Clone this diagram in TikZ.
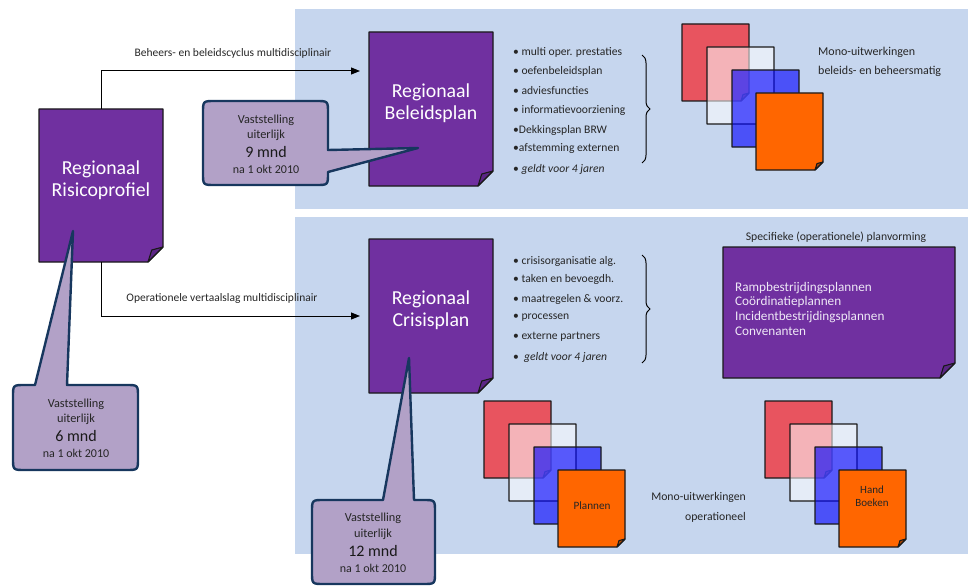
\documentclass[tikz,border=0pt]{standalone}
\usepackage{fontspec}
\setmainfont{Carlito}
\usetikzlibrary{decorations.pathreplacing,arrows.meta}
\definecolor{panel}{HTML}{C6D6EE}
\definecolor{plum}{HTML}{7030A0}
\definecolor{plumdark}{HTML}{5B2585}
\definecolor{callfill}{HTML}{B2A1C7}
\definecolor{callline}{HTML}{17375E}
\definecolor{sheetred}{HTML}{E8545F}
\definecolor{sheetorange}{HTML}{FF6600}
\definecolor{txt}{HTML}{262626}
\definecolor{lavtext}{HTML}{EEE8F6}
\tikzset{
  sheetline/.style={draw=black!90, line width=1.1pt, line join=round},
  area/.style={draw=none, inner sep=0pt, rectangle},
  bigtitle/.style={text=white, font=\fontsize{19.8}{22.5}\selectfont, align=center},
  bullet/.style={anchor=west, text=txt, font=\fontsize{11.6}{13}\selectfont, inner sep=0pt},
  smalltxt/.style={text=txt, font=\fontsize{11.5}{13}\selectfont, inner sep=0pt},
  calloutshape/.style={fill=callfill, draw=callline, line width=2.4pt, line join=round},
  ctxt/.style={text=txt, inner sep=0pt, font=\fontsize{12.3}{14}\selectfont},
  cbig/.style={text=black!90, inner sep=0pt, font=\fontsize{16}{18}\selectfont},
  csmall/.style={text=txt, inner sep=0pt, font=\fontsize{12}{14}\selectfont},
  arrowline/.style={draw=black, line width=1pt, -{Triangle[length=9pt,width=7pt]}},
  bracestyle/.style={draw=black, line width=1pt, decorate, decoration={brace, amplitude=8pt}},
}
% #1 x1, #2 y1, #3 x2, #4 y2, #5 fill, #6 fold size, #7 fold fill
\newcommand{\docsheet}[7]{%
  \path[sheetline,#5] (#1,#2) -- (#3,#2) -- (#3,{#4-#6}) -- ({#3-#6},#4) -- (#1,#4) -- cycle;
  \path[sheetline,fill=#7] ({#3-#6},#4) -- ({#3-0.75*#6},{#4-0.8*#6}) -- (#3,{#4-#6}) -- cycle;
}
\newcommand{\sheetstack}[2]{%
  \docsheet{#1}{#2}{#1+67}{#2+77}{fill=sheetred}{8}{sheetred!75!black}
  \docsheet{#1+25}{#2+23}{#1+92}{#2+100}{fill=white,fill opacity=0.56}{8}{white!80!black}
  \docsheet{#1+50}{#2+46}{#1+117}{#2+123}{fill=blue,fill opacity=0.62}{8}{blue!70!black}
  \docsheet{#1+74}{#2+69}{#1+141}{#2+146}{fill=sheetorange}{8}{sheetorange!70!black}
}
\begin{document}
\begin{tikzpicture}[x=1pt,y=-1pt]
\useasboundingbox (0,0) rectangle (970,586);
% panels
\fill[panel] (295,9) rectangle (968,209);
\fill[panel] (295,217) rectangle (968,554);

% main documents
\docsheet{39}{109}{163}{262}{fill=plum}{15}{plumdark}
\node[area, minimum width=124pt, minimum height=153pt] (risk) at (101,185.5) {};
\node[bigtitle] (riskT) at (101,180) {Regionaal\\Risicoprofiel};

\docsheet{369}{32}{493}{186}{fill=plum}{15}{plumdark}
\node[area, minimum width=124pt, minimum height=154pt] (bel) at (431,109) {};
\node[bigtitle] (belT) at (431,103) {Regionaal\\Beleidsplan};

\docsheet{369}{239}{493}{393}{fill=plum}{15}{plumdark}
\node[area, minimum width=124pt, minimum height=154pt] (cris) at (431,316) {};
\node[bigtitle] (crisT) at (431,310) {Regionaal\\Crisisplan};

% connectors
\coordinate (belin) at (360,71);
\coordinate (crisin) at (360,316);
\draw[arrowline] (risk.north) |- (belin);
\draw[arrowline] (risk.south) |- (crisin);
\node[smalltxt] (lab1) at (233,53) {Beheers- en beleidscyclus multidisciplinair};
\node[smalltxt] (lab2) at (222,298) {Operationele vertaalslag multidisciplinair};

% callouts
\path[calloutshape] (215,101) -- (316,101) .. controls (328,101) .. (328,113) -- (328,150)
  -- (418,148) -- (328,172) -- (328,173) .. controls (328,185) .. (316,185) -- (215,185)
  .. controls (203,185) .. (203,173) -- (203,113) .. controls (203,101) .. (215,101) -- cycle;
\node[ctxt] (c9a) at (266,120) {Vaststelling};
\node[ctxt] (c9b) at (266,135) {uiterlijk};
\node[cbig] (c9c) at (266,152) {9 mnd};
\node[csmall] (c9d) at (266,169) {na 1 okt 2010};

\path[calloutshape] (13,397) .. controls (13,385) .. (25,385) -- (35,385) -- (73,231) -- (67,385)
  -- (126,385) .. controls (138,385) .. (138,397) -- (138,458) .. controls (138,470) .. (126,470)
  -- (25,470) .. controls (13,470) .. (13,458) -- cycle;
\node[ctxt] (c6a) at (76,404) {Vaststelling};
\node[ctxt] (c6b) at (76,419) {uiterlijk};
\node[cbig] (c6c) at (76,436) {6 mnd};
\node[csmall] (c6d) at (76,453) {na 1 okt 2010};

\path[calloutshape] (312,512) .. controls (312,500) .. (324,500) -- (383,500) -- (409,358) -- (414,500)
  -- (423,500) .. controls (435,500) .. (435,512) -- (435,572) .. controls (435,584) .. (423,584)
  -- (324,584) .. controls (312,584) .. (312,572) -- cycle;
\node[ctxt] (c12a) at (373,518) {Vaststelling};
\node[ctxt] (c12b) at (373,534) {uiterlijk};
\node[cbig] (c12c) at (373,551) {12 mnd};
\node[csmall] (c12d) at (373,568) {na 1 okt 2010};

% top list
\node[bullet] (t1) at (513,52) {\textbullet\ multi oper. prestaties};
\node[bullet] (t2) at (513,71) {\textbullet\ oefenbeleidsplan};
\node[bullet] (t3) at (513,91) {\textbullet\ adviesfuncties};
\node[bullet] (t4) at (513,110) {\textbullet\ informatievoorziening};
\node[bullet] (t5) at (513,130) {\textbullet Dekkingsplan BRW};
\node[bullet] (t6) at (513,149) {\textbullet afstemming externen};
\node[bullet] (t7) at (513,169) {\textbullet\ \textit{geldt voor 4 jaren}};
\draw[bracestyle] (642,55) -- (642,163);

% bottom list
\node[bullet] (b1) at (513,261) {\textbullet\ crisisorganisatie alg.};
\node[bullet] (b2) at (513,279) {\textbullet\ taken en bevoegdh.};
\node[bullet] (b3) at (513,299) {\textbullet\ maatregelen \& voorz.};
\node[bullet] (b4) at (513,318) {\textbullet\ processen};
\node[bullet] (b5) at (513,337) {\textbullet\ externe partners};
\node[bullet] (b6) at (513,357) {\textbullet\ \ \textit{geldt voor 4 jaren}};
\draw[bracestyle] (642,255) -- (642,363);

% top stack
\sheetstack{682}{24}
\node[anchor=west, smalltxt, font=\fontsize{12}{14}\selectfont] (mono1) at (818,52) {Mono-uitwerkingen};
\node[anchor=west, smalltxt, font=\fontsize{12}{14}\selectfont] (mono2) at (818,71) {beleids- en beheersmatig};

% specific planning
\node[smalltxt, font=\fontsize{11.7}{13}\selectfont] (specT) at (836,237) {Specifieke (operationele) planvorming};
\docsheet{723}{247}{955}{378}{fill=plum}{15}{plumdark}
\node[area, minimum width=232pt, minimum height=131pt] (spec) at (839,312.5) {};
\node[anchor=north west, inner sep=0pt, text=lavtext, align=left, font=\fontsize{13.2}{14.6}\selectfont] (specL) at (735,282)
  {Rampbestrijdingsplannen\\Coördinatieplannen\\Incidentbestrijdingsplannen\\Convenanten};

% bottom stacks
\sheetstack{484}{401}
\node[smalltxt, font=\fontsize{11.2}{13}\selectfont] (plannen) at (592,506) {Plannen};
\sheetstack{765}{401}
\node[smalltxt, align=center, font=\fontsize{11}{13}\selectfont] (hand) at (872,496.5) {Hand\\Boeken};
\node[anchor=east, smalltxt, font=\fontsize{11.7}{13}\selectfont] (mono3) at (746,497) {Mono-uitwerkingen};
\node[anchor=east, smalltxt, font=\fontsize{11.7}{13}\selectfont] (mono4) at (746,517) {operationeel};
\end{tikzpicture}
\end{document}
